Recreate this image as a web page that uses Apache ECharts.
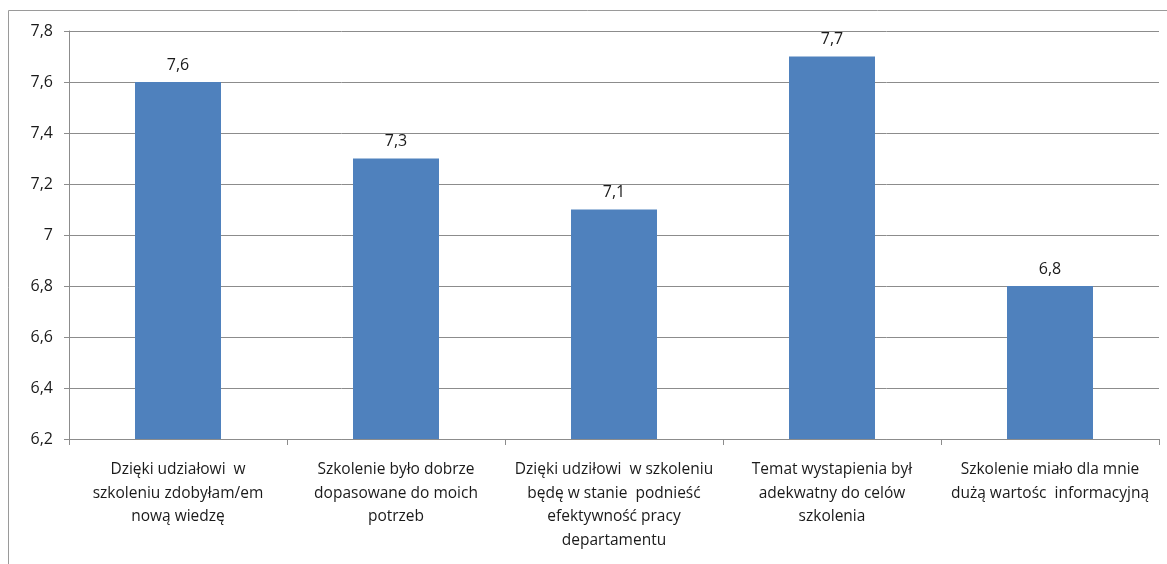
<!DOCTYPE html>
<html><head><meta charset="utf-8">
<script src="https://cdn.jsdelivr.net/npm/echarts@6/dist/echarts.min.js"></script>
<style>html,body{margin:0;padding:0;background:#fff}#c{width:1167px;height:564px}</style>
</head><body><div id="c"></div>
<script>
const categories = [
  "Dzięki udziałowi  w\nszkoleniu zdobyłam/em\nnową wiedzę",
  "Szkolenie było dobrze\ndopasowane do moich\npotrzeb",
  "Dzięki udziłowi  w szkoleniu\nbędę w stanie  podnieść\nefektywność pracy\ndepartamentu",
  "Temat wystapienia był\nadekwatny do celów\nszkolenia",
  "Szkolenie miało dla mnie\ndużą wartośc  informacyjną"
];
const values = [7.6, 7.3, 7.1, 7.7, 6.8];
const yMin = 6.2, yMax = 7.8, yStep = 0.2;

const chart = echarts.init(document.getElementById('c'), null, {renderer: 'canvas'});
const font = "'Open Sans', 'Noto Sans', sans-serif";
chart.setOption({
  animation: false,
  graphic: [
    {type: 'polyline', shape: {points: [[8.5, 564], [8.5, 10.5], [1167, 10.5]]},
     style: {stroke: '#9a9a9a', lineWidth: 1, fill: null}}
  ],
  grid: {left: 69, right: 8, top: 31, bottom: 125},
  xAxis: {
    type: 'category', data: categories,
    axisLine: {lineStyle: {color: '#8c8c8c'}},
    axisTick: {show: true, alignWithLabel: false, length: 6, lineStyle: {color: '#8c8c8c'}},
    axisLabel: {interval: 0, color: '#1a1a1a', fontSize: 15.5, fontFamily: font, lineHeight: 23.5, margin: 19}
  },
  yAxis: {
    type: 'value', min: yMin, max: yMax, interval: yStep,
    axisLine: {show: true, lineStyle: {color: '#8c8c8c'}},
    axisTick: {show: true, length: 5, lineStyle: {color: '#8c8c8c'}},
    splitLine: {lineStyle: {color: '#8c8c8c'}},
    axisLabel: {color: '#1a1a1a', fontSize: 16, fontFamily: font, margin: 16,
      formatter: v => { const r = Math.round(v * 10) / 10; return String(r).replace('.', ','); }}
  },
  series: [{
    type: 'bar', data: values, barWidth: 86,
    itemStyle: {color: '#4f81bd'},
    label: {show: true, position: 'top', distance: 9, color: '#1a1a1a', fontSize: 16, fontFamily: font,
      formatter: p => String(p.value).replace('.', ',')}
  }]
});
</script></body></html>
